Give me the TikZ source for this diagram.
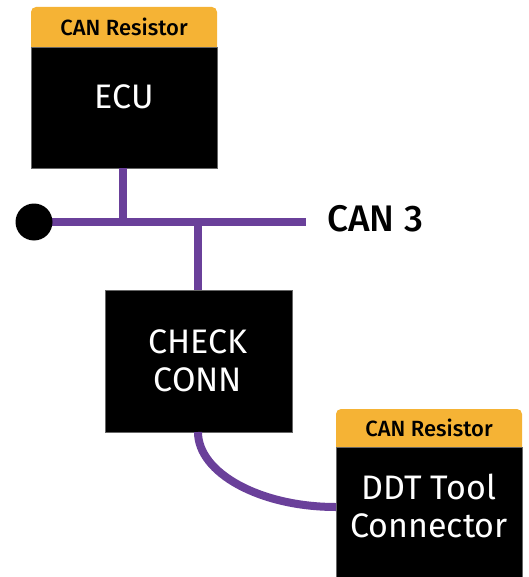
\documentclass[tikz,border=0pt]{standalone}
\usepackage{fontspec}
\setmainfont{Fira Sans}
\newfontfamily\mediumfont{Fira Sans Medium}
\usetikzlibrary{positioning}

\definecolor{wirepurple}{HTML}{6A409A}
\definecolor{taborange}{HTML}{F5B335}

\begin{document}
\begin{tikzpicture}[
    x=1pt, y=-1pt,
    line width=8pt,
    % Style for the black units
    unit box/.style={fill=black, draw=black!60, line width=0.5pt, anchor=north west,
        minimum width=186pt, inner sep=0pt, outer sep=0pt},
    unit text/.style={text=white, align=center, font=\fontsize{34}{38}\selectfont},
    % Style for the orange resistor tabs
    tab box/.style={fill=taborange, rounded corners=5pt, anchor=north west,
        minimum width=186pt, minimum height=50pt, inner sep=0pt, outer sep=0pt},
    tab text/.style={text=black, font=\mediumfont\fontsize{22}{24}\selectfont},
    wire/.style={draw=wirepurple, line width=8pt}
]
    \useasboundingbox (0,0) rectangle (528,577);

    % ==========================
    % ECU with resistor tab
    % ==========================
    \node[tab box] (ecutab) at (31,7) {};
    \node[unit box, minimum height=121pt] (ecu) at (31,47) {};
    \node[tab text] (ecutabtext) at (124,27) {CAN Resistor};
    \node[unit text] (ecutext) at (124,97) {ECU};

    % ==========================
    % CAN 3 bus
    % ==========================
    \coordinate (busend) at (306,222);
    \coordinate (ecutap) at (123,222);
    \coordinate (checktap) at (198,222);
    \coordinate (busdot) at (34,222);
    \node[anchor=west, font=\mediumfont\fontsize{37}{40}\selectfont] (buslabel) at (320,219) {CAN 3};

    % ==========================
    % Check connector
    % ==========================
    \node[unit box, minimum width=187pt, minimum height=142pt] (check) at (105,290) {};
    \node[unit text] (checktext) at (198,361) {CHECK\\CONN};

    % ==========================
    % DDT tool connector with resistor tab
    % ==========================
    \node[tab box] (ddttab) at (336,409) {};
    \node[unit box, minimum height=135pt] (ddt) at (336,447) {};
    \node[tab text] (ddttabtext) at (429,428) {CAN Resistor};
    \node[unit text] (ddttext) at (429,506) {DDT Tool\\Connector};

    % wires
    \draw[wire] (busdot) -- (busend);
    \draw[wire] (ecu.south -| ecutap) -- (ecutap);
    \draw[wire] (checktap) -- (check.north -| checktap);
    \draw[wire] (check.south -| checktap)
        .. controls (198,473) and (260,507) .. (ddt.west |- 0,507);

    % terminal dot over the bus end
    \node[circle, fill=black, minimum size=37pt, inner sep=0pt] (busdotnode) at (busdot) {};
\end{tikzpicture}
\end{document}
